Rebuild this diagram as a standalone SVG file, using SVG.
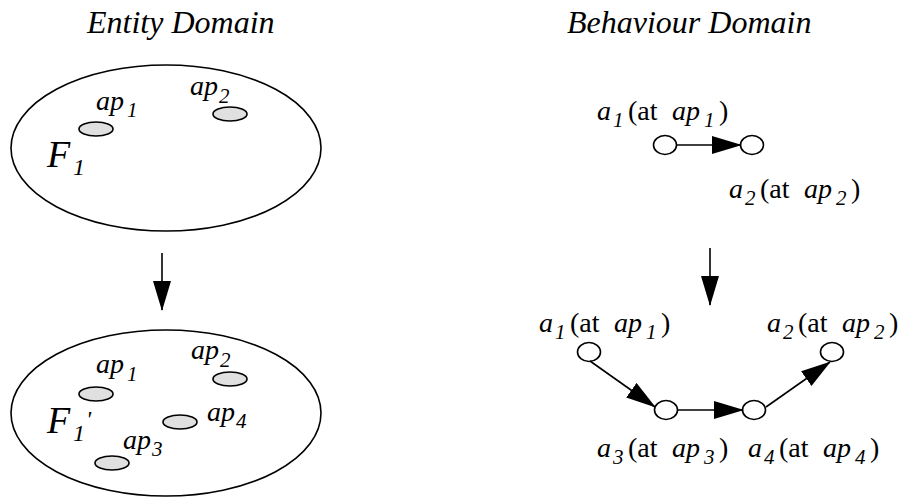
<svg xmlns="http://www.w3.org/2000/svg" width="902" height="499" viewBox="0 0 902 499">
<defs>
<style>
text{font-family:"Liberation Serif","Times New Roman",serif;fill:#000}
.t{font-size:32px;font-style:italic}
.l{font-size:28px}
.i{font-style:italic}
.s{font-size:21px;font-style:italic}
.F{font-size:38px;font-style:italic}
.Fs{font-size:24px;font-style:italic}
.big{fill:none;stroke:#000;stroke-width:1.6}
.ap{fill:#e0e0e0;stroke:#000;stroke-width:1.6}
.nd{fill:#fff;stroke:#000;stroke-width:1.6}
.c{stroke:#000;stroke-width:1.6;fill:none}
</style>
<marker id="ah" markerUnits="userSpaceOnUse" markerWidth="30" markerHeight="18" viewBox="0 0 30 18" refX="29" refY="9" orient="auto">
<path d="M0,0 L30,9 L0,18 z" fill="#000"/>
</marker>
</defs>
<rect width="902" height="499" fill="#fff"/>
<text class="t" x="87" y="33">Entity Domain</text>
<text class="t" x="567" y="33">Behaviour Domain</text>

<g id="F1">
<ellipse class="big" cx="166" cy="148" rx="155" ry="83"/>
<ellipse class="ap" cx="96" cy="129" rx="17" ry="7"/>
<ellipse class="ap" cx="230" cy="114" rx="17" ry="7"/>
<text class="l" x="96" y="110"><tspan class="i">ap</tspan><tspan class="s" x="127" y="117">1</tspan></text>
<text class="l" x="190" y="95"><tspan class="i">ap</tspan><tspan class="s" x="219" y="103">2</tspan></text>
<text class="F" x="47" y="167">F<tspan class="Fs" x="73" y="175">1</tspan></text>
</g>

<g id="F1p">
<ellipse class="big" cx="166" cy="413" rx="155" ry="83"/>
<ellipse class="ap" cx="96" cy="394" rx="17" ry="7"/>
<ellipse class="ap" cx="230" cy="379" rx="17" ry="7"/>
<ellipse class="ap" cx="180" cy="422" rx="17" ry="7"/>
<ellipse class="ap" cx="112" cy="463" rx="17" ry="7"/>
<text class="l" x="96" y="373"><tspan class="i">ap</tspan><tspan class="s" x="127" y="381">1</tspan></text>
<text class="l" x="191" y="359"><tspan class="i">ap</tspan><tspan class="s" x="220" y="367">2</tspan></text>
<text class="l" x="207" y="421"><tspan class="i">ap</tspan><tspan class="s" x="236" y="428">4</tspan></text>
<text class="l" x="123" y="449"><tspan class="i">ap</tspan><tspan class="s" x="152" y="456">3</tspan></text>
<text class="F" x="47" y="433">F<tspan class="Fs" x="73" y="441">1</tspan><tspan class="Fs" x="86" y="427">'</tspan></text>
</g>

<g id="b1">
<ellipse class="nd" cx="665" cy="145" rx="11.5" ry="9.5"/>
<text class="l" x="597" y="120"><tspan class="i">a</tspan><tspan class="s" x="613" y="127">1</tspan><tspan x="628" y="120">(at</tspan><tspan class="i" x="672" y="120">ap</tspan><tspan class="s" x="704" y="127">1</tspan><tspan x="719" y="120">)</tspan></text>
</g>
<g id="b2">
<ellipse class="nd" cx="752" cy="145" rx="11.5" ry="9.5"/>
<text class="l" x="729" y="198"><tspan class="i">a</tspan><tspan class="s" x="745" y="205">2</tspan><tspan x="760" y="198">(at</tspan><tspan class="i" x="804" y="198">ap</tspan><tspan class="s" x="836" y="205">2</tspan><tspan x="851" y="198">)</tspan></text>
</g>
<g id="c1">
<ellipse class="nd" cx="589" cy="352" rx="11.5" ry="9.5"/>
<text class="l" x="539" y="332"><tspan class="i">a</tspan><tspan class="s" x="555" y="339">1</tspan><tspan x="570" y="332">(at</tspan><tspan class="i" x="614" y="332">ap</tspan><tspan class="s" x="646" y="339">1</tspan><tspan x="661" y="332">)</tspan></text>
</g>
<g id="c2">
<ellipse class="nd" cx="832" cy="352" rx="11.5" ry="9.5"/>
<text class="l" x="767" y="332"><tspan class="i">a</tspan><tspan class="s" x="783" y="339">2</tspan><tspan x="798" y="332">(at</tspan><tspan class="i" x="842" y="332">ap</tspan><tspan class="s" x="874" y="339">2</tspan><tspan x="889" y="332">)</tspan></text>
</g>
<g id="c3">
<ellipse class="nd" cx="666" cy="410" rx="11.5" ry="9.5"/>
<text class="l" x="597" y="457"><tspan class="i">a</tspan><tspan class="s" x="613" y="464">3</tspan><tspan x="628" y="457">(at</tspan><tspan class="i" x="672" y="457">ap</tspan><tspan class="s" x="704" y="464">3</tspan><tspan x="719" y="457">)</tspan></text>
</g>
<g id="c4">
<ellipse class="nd" cx="754" cy="410" rx="11.5" ry="9.5"/>
<text class="l" x="748" y="457"><tspan class="i">a</tspan><tspan class="s" x="764" y="464">4</tspan><tspan x="779" y="457">(at</tspan><tspan class="i" x="823" y="457">ap</tspan><tspan class="s" x="855" y="464">4</tspan><tspan x="870" y="457">)</tspan></text>
</g>

<g id="connectors">
<line class="c" x1="162" y1="253" x2="162" y2="310" marker-end="url(#ah)"/>
<line class="c" x1="710" y1="248" x2="710" y2="305" marker-end="url(#ah)"/>
<line class="c" x1="677" y1="145" x2="741" y2="145" marker-end="url(#ah)"/>
<line class="c" x1="590" y1="361" x2="655" y2="407" marker-end="url(#ah)"/>
<line class="c" x1="678" y1="410" x2="743" y2="410" marker-end="url(#ah)"/>
<line class="c" x1="766" y1="407" x2="830" y2="362" marker-end="url(#ah)"/>
</g>
</svg>
